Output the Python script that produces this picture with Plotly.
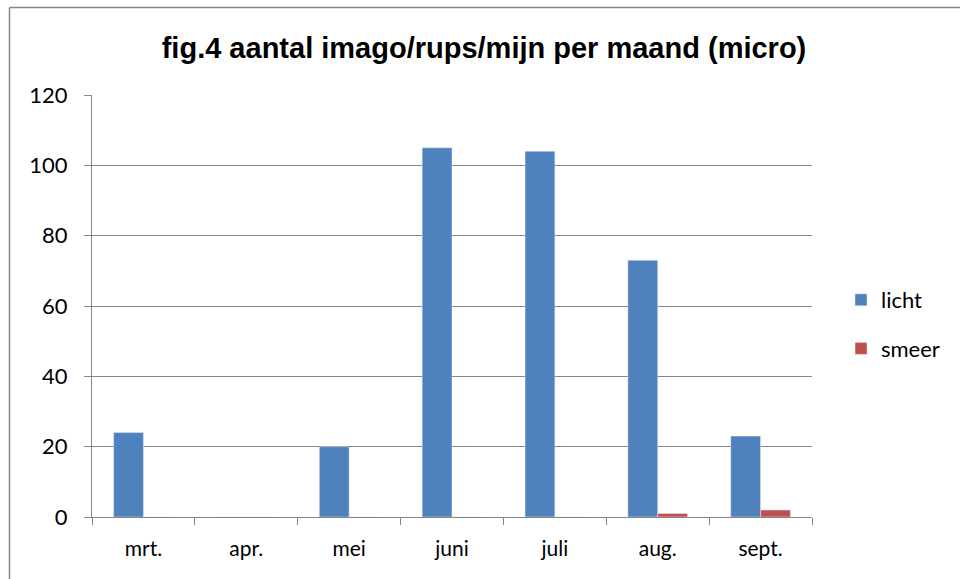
import plotly.graph_objects as go

months = ["mrt.", "apr.", "mei", "juni", "juli", "aug.", "sept."]
licht = [24, 0, 20, 105, 104, 73, 23]
smeer = [0, 0, 0, 0, 0, 1, 2]
y_ticks = [0, 20, 40, 60, 80, 100, 120]

FONT = "Lato, 'Liberation Sans', sans-serif"
GRID = "#868686"

fig = go.Figure()
fig.add_trace(go.Bar(x=months, y=licht, name="licht", marker_color="#4F81BD",
                     legendgroup="a"))
fig.add_trace(go.Bar(x=months, y=smeer, name="smeer", marker_color="#C0504D",
                     legendgroup="b"))

W, H = 960, 579
# plot area in page pixels: x 92..812, y 95..517
L, R, T, B = 92, 812, 95, 517
fig.update_layout(
    width=W, height=H,
    margin=dict(l=L, r=W - R, t=T, b=H - B),
    paper_bgcolor="white", plot_bgcolor="white",
    barmode="group", bargap=0.42, bargroupgap=0,
    title=dict(text="<b>fig.4 aantal imago/rups/mijn per maand (micro)</b>",
               x=484 / W, xanchor="center", y=1 - 48 / H, yanchor="middle",
               font=dict(family="Arial, 'Liberation Sans', sans-serif", size=29, color="black")),
    font=dict(family=FONT, size=22, color="black"),
    legend=dict(x=(841 - L) / (R - L), xanchor="left",
                y=1 - (279 - T) / (B - T), yanchor="top",
                tracegroupgap=17, traceorder="grouped",
                font=dict(family=FONT, size=22, color="black")),
    xaxis=dict(showline=True, linecolor=GRID, linewidth=1, ticks="outside",
               tickson="boundaries", ticklen=7, tickcolor=GRID,
               ticklabelstandoff=13,
               tickfont=dict(family=FONT, size=21), showgrid=False),
    yaxis=dict(range=[0, 120], tickvals=y_ticks, showline=True, linecolor=GRID,
               linewidth=1, ticks="outside", ticklen=7, tickcolor=GRID,
               ticklabelstandoff=12,
               showgrid=True, gridcolor=GRID, gridwidth=1, zeroline=False,
               tickfont=dict(family=FONT, size=22)),
)

# outer chart border (left and top edges visible)
px0 = (9.5 - L) / (R - L)
py0 = 1 + (T - 7.5) / (B - T)
fig.add_shape(type="line", xref="paper", yref="paper", x0=px0, x1=px0, y0=py0, y1=-1,
              line=dict(color=GRID, width=1.5))
fig.add_shape(type="line", xref="paper", yref="paper", x0=px0, x1=1.3, y0=py0, y1=py0,
              line=dict(color=GRID, width=1.5))

fig.write_html(
    "out.html",
    config={"displayModeBar": False},
    post_script="document.body.style.margin='0';document.body.style.overflow='hidden';",
)
